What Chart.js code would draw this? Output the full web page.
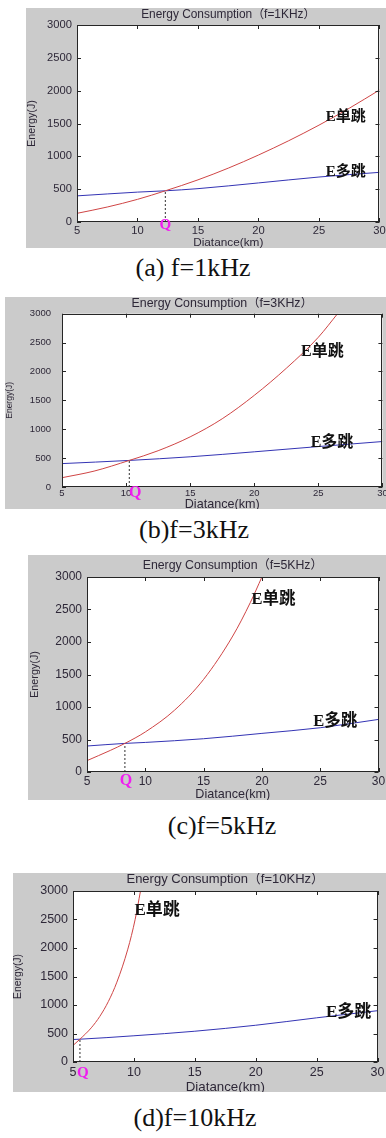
<!DOCTYPE html>
<html>
<head>
<meta charset="utf-8">
<script src="https://cdn.jsdelivr.net/npm/chart.js@4.4.1/dist/chart.umd.min.js"></script>
<style>
  body { margin: 0; width: 386px; height: 1138px; overflow: hidden; background: #fff; position: relative; }
  .panel { position: absolute; background: #cbcbcb; }
  .panel canvas { display: block; }
  .cap { position: absolute; font-family: "Liberation Serif", "DejaVu Serif", serif; font-size: 26px; color: #111;
         transform: translate(-50%, -50%); white-space: nowrap; }
</style>
</head>
<body>
<div class="panel" style="left:26px;top:8px;"><canvas id="ca" width="362" height="240"></canvas></div>
<div class="cap" style="left:193px;top:268px;">(a) f=1kHz</div>
<div class="panel" style="left:5px;top:297px;"><canvas id="cb" width="383" height="212"></canvas></div>
<div class="cap" style="left:194px;top:530px;">(b)f=3kHz</div>
<div class="panel" style="left:28px;top:555px;"><canvas id="cc" width="360" height="245"></canvas></div>
<div class="cap" style="left:222px;top:826px;">(c)f=5kHz</div>
<div class="panel" style="left:13px;top:873px;"><canvas id="cd" width="375" height="219"></canvas></div>
<div class="cap" style="left:195px;top:1118px;">(d)f=10kHz</div>

<script>
// axis ticks
const xTicks = [5, 10, 15, 20, 25, 30];
const yTicks = [0, 500, 1000, 1500, 2000, 2500, 3000];

// (a) f=1kHz
const singleXA = [5, 7.5, 10, 12.3, 15, 17.5, 20, 22.5, 25, 27.5, 30];
const singleYA = [132, 228, 345, 475, 642, 820, 1020, 1238, 1475, 1732, 2010];
const multiXA = [5, 10, 12.3, 15, 20, 25, 30];
const multiYA = [398, 455, 475, 508, 595, 685, 756];
const qA = [12.3, 475];

// (b) f=3kHz
const singleXB = [5, 7.5, 10.25, 12.5, 15, 17.5, 20, 22.5, 25, 26.5];
const singleYB = [161, 275, 460, 628, 868, 1181, 1586, 2055, 2592, 3000];
const multiXB = [5, 10.25, 15, 20, 25, 30];
const multiYB = [405, 460, 523, 609, 700, 787];
const qB = [10.25, 460];

// (c) f=5kHz
const singleXC = [5, 6, 7, 8.25, 10, 12.5, 15, 17.5, 19, 20];
const singleYC = [175, 253, 332, 440, 616, 950, 1425, 2092, 2605, 3000];
const multiXC = [5, 8.25, 10, 15, 20, 25, 30];
const multiYC = [400, 440, 455, 512, 594, 681, 809];
const qC = [8.25, 440];

// (d) f=10kHz
const singleXD = [5, 5.57, 6.5, 7.2, 7.9, 8.6, 9.5, 10.1, 10.54];
const singleYD = [290, 400, 600, 800, 1060, 1400, 1980, 2500, 3000];
const multiXD = [5, 5.57, 10, 15, 20, 25, 30];
const multiYD = [395, 400, 460, 540, 645, 775, 900];
const qD = [5.57, 400];

const TXT = '#2e2838';
const SANS = '"Liberation Sans", Arial, "Noto Sans CJK SC", sans-serif';
const LBL = '"Liberation Serif", "Noto Sans CJK SC", serif';
const RED = '#cf4545';
const BLUE = '#3434b4';

function pts(xs, ys) {
  return xs.map((x, i) => ({ x, y: ys[i] }));
}

const boxPlugin = {
  id: 'box',
  beforeDraw(chart) {
    const { ctx, chartArea: a } = chart;
    ctx.save();
    ctx.fillStyle = '#fff';
    ctx.fillRect(a.left, a.top, a.right - a.left, a.bottom - a.top);
    ctx.restore();
  },
  afterDraw(chart) {
    const { ctx, chartArea: a, scales } = chart;
    const p = chart.options.plugins.box;
    ctx.save();
    ctx.strokeStyle = '#262626';
    ctx.lineWidth = 1;
    ctx.strokeRect(Math.round(a.left) + 0.5, Math.round(a.top) + 0.5,
      Math.round(a.right - a.left) - 1, Math.round(a.bottom - a.top) - 1);
    ctx.beginPath();
    xTicks.forEach(v => {
      const px = Math.round(scales.x.getPixelForValue(v)) + 0.5;
      ctx.moveTo(px, a.bottom); ctx.lineTo(px, a.bottom - 4);
      ctx.moveTo(px, a.top); ctx.lineTo(px, a.top + 4);
    });
    yTicks.forEach(v => {
      const py = Math.round(scales.y.getPixelForValue(v)) + 0.5;
      ctx.moveTo(a.left, py); ctx.lineTo(a.left + 4, py);
      ctx.moveTo(a.right, py); ctx.lineTo(a.right - 4, py);
    });
    ctx.stroke();

    // curve labels
    ctx.fillStyle = '#111';
    ctx.font = 'bold ' + p.lblSize + 'px ' + LBL;
    ctx.textAlign = 'left';
    ctx.textBaseline = 'middle';
    p.labels.forEach(l => {
      ctx.fillText(l.t, scales.x.getPixelForValue(l.x), scales.y.getPixelForValue(l.y));
    });

    // Q marker
    ctx.fillStyle = '#f01cf0';
    ctx.font = 'bold ' + p.qSize + 'px ' + LBL;
    ctx.textAlign = 'center';
    ctx.fillText('Q', scales.x.getPixelForValue(p.q[0]) + p.qDx, a.bottom + p.qDy);
    ctx.restore();
  }
};

function makeChart(p) {
  const tickFont = { family: SANS, size: p.tick };
  new Chart(document.getElementById(p.id), {
    type: 'line',
    data: {
      datasets: [
        { data: pts(p.sx, p.sy), borderColor: RED, borderWidth: 1, pointRadius: 0, cubicInterpolationMode: 'monotone' },
        { data: pts(p.mx, p.my), borderColor: BLUE, borderWidth: 1, pointRadius: 0, cubicInterpolationMode: 'monotone' },
        { data: [{ x: p.q[0], y: 0 }, { x: p.q[0], y: p.q[1] }], borderColor: '#333', borderWidth: 1, borderDash: [2, 2], pointRadius: 0 }
      ]
    },
    options: {
      responsive: false,
      animation: false,
      events: [],
      layout: { padding: 0 },
      plugins: {
        legend: { display: false },
        tooltip: { enabled: false },
        title: {
          display: true, fullSize: false, text: p.title, color: TXT,
          font: { family: SANS, size: p.titleSize, weight: 'normal', lineHeight: 1 },
          padding: { top: p.titlePad[0], bottom: p.titlePad[1] }
        },
        box: { labels: p.labels, q: p.q, qDx: p.qDx, qDy: p.qDy, qSize: p.qSize, lblSize: p.lblSize }
      },
      scales: {
        x: {
          type: 'linear', min: 5, max: 30,
          ticks: { stepSize: 5, color: TXT, font: tickFont, padding: p.xPad, maxRotation: 0, autoSkip: false, callback: v => String(v) },
          grid: { display: false, drawTicks: false },
          border: { display: false },
          title: { display: true, text: 'Diatance(km)', color: TXT, font: { family: SANS, size: p.xTitle, lineHeight: 1 }, padding: { top: 0, bottom: p.xTitlePad } },
          afterFit: s => { s.height = p.xH; }
        },
        y: {
          min: 0, max: 3000,
          ticks: { stepSize: 500, color: TXT, font: tickFont, padding: p.yPad, callback: v => String(v) },
          grid: { display: false, drawTicks: false },
          border: { display: false },
          title: { display: true, text: 'Energy(J)', color: TXT, font: { family: SANS, size: p.yTitle, weight: 'normal' }, padding: { top: p.yTitlePad, bottom: 0 } },
          afterFit: s => { s.width = p.yW; }
        }
      }
    },
    plugins: [boxPlugin]
  });
}

makeChart({
  id: 'ca', title: 'Energy Consumption（f=1KHz）',
  sx: singleXA, sy: singleYA, mx: multiXA, my: multiYA, q: qA,
  tick: 11.2, titleSize: 11.9, xTitle: 11.8, yTitle: 10.8,
  yW: 51, xH: 26, titlePad: [1, 4.1], xPad: 2.3, yPad: 5, xTitlePad: -1, yTitlePad: 0,
  qDx: 0, qDy: 3, qSize: 15, lblSize: 15,
  labels: [{ t: 'E单跳', x: 25.55, y: 1600 }, { t: 'E多跳', x: 25.55, y: 760 }]
});
makeChart({
  id: 'cb', title: 'Energy Consumption（f=3KHz）',
  sx: singleXB, sy: singleYB, mx: multiXB, my: multiYB, q: qB,
  tick: 9.5, titleSize: 12.4, xTitle: 12.6, yTitle: 8.5,
  yW: 57, xH: 22, titlePad: [0, 3.6], xPad: 0.3, yPad: 11, xTitlePad: -2.3, yTitlePad: 0,
  qDx: 6, qDy: 6, qSize: 16, lblSize: 16,
  labels: [{ t: 'E单跳', x: 23.65, y: 2345 }, { t: 'E多跳', x: 24.4, y: 760 }]
});
makeChart({
  id: 'cc', title: 'Energy Consumption（f=5KHz）',
  sx: singleXC, sy: singleYC, mx: multiXC, my: multiYC, q: qC,
  tick: 12, titleSize: 12.3, xTitle: 12.6, yTitle: 10.8,
  yW: 59, xH: 28, titlePad: [4.85, 4.85], xPad: 2.8, yPad: 5, xTitlePad: -1.3, yTitlePad: 0.5,
  qDx: 1, qDy: 9, qSize: 16, lblSize: 16.5,
  labels: [{ t: 'E单跳', x: 19.1, y: 2650 }, { t: 'E多跳', x: 24.4, y: 770 }]
});
makeChart({
  id: 'cd', title: 'Energy Consumption（f=10KHz）',
  sx: singleXD, sy: singleYD, mx: multiXD, my: multiYD, q: qD,
  tick: 12.5, titleSize: 13, xTitle: 13.3, yTitle: 10.4,
  yW: 60, xH: 30, titlePad: [0, 5], xPad: 3.5, yPad: 5, xTitlePad: -1.6, yTitlePad: -1.2,
  qDx: 3, qDy: 11, qSize: 15, lblSize: 17,
  labels: [{ t: 'E单跳', x: 10.05, y: 2650 }, { t: 'E多跳', x: 25.77, y: 860 }]
});
</script>
</body>
</html>
